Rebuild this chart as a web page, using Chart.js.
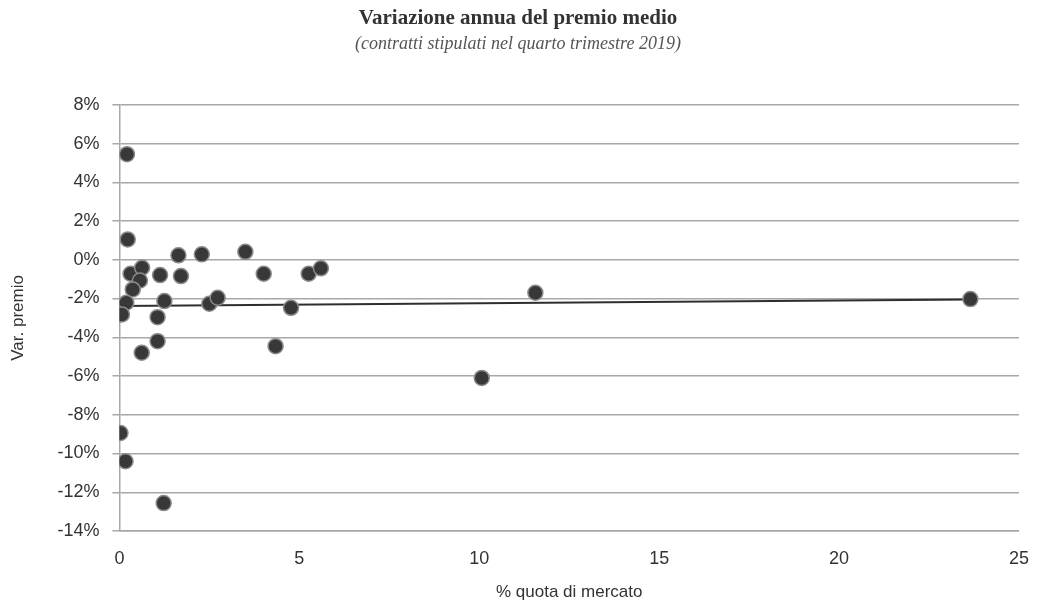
<!DOCTYPE html>
<html>
<head>
<meta charset="utf-8">
<script src="https://cdn.jsdelivr.net/npm/chart.js@4/dist/chart.umd.min.js"></script>
<style>
  html, body { margin: 0; padding: 0; background: #fff; }
  #wrap { width: 1038px; height: 606px; }
</style>
</head>
<body>
<div id="wrap"><canvas id="premioChart" width="1038" height="606"></canvas></div>
<script>
// quota di mercato (%) e variazione annua del premio medio (%)
const quota = [0.21, 0.23, 0.31, 0.63, 0.57, 0.37, 0.19, 0.07, 1.13, 1.64,
               1.71, 1.25, 1.06, 2.29, 2.50, 2.73, 3.50, 4.01, 4.77, 5.26,
               5.60, 1.06, 0.62, 4.34, 0.03, 0.17, 1.23, 11.56, 10.07, 23.65];
const premio = [5.45, 1.05, -0.72, -0.41, -1.07, -1.53, -2.22, -2.82, -0.79, 0.23,
                -0.84, -2.13, -2.96, 0.28, -2.27, -1.96, 0.41, -0.72, -2.48, -0.72,
                -0.44, -4.20, -4.80, -4.46, -8.94, -10.40, -12.56, -1.70, -6.10, -2.03];

// retta di tendenza (estremi)
const trendX = [0, 23.65];
const trendY = [-2.38, -2.05];

const yTicks = [8, 6, 4, 2, 0, -2, -4, -6, -8, -10, -12, -14];
const xTicks = [0, 5, 10, 15, 20, 25];

const points = quota.map((q, i) => ({ x: q, y: premio[i] }));
const trend = trendX.map((x, i) => ({ x: x, y: trendY[i] }));

const ctx = document.getElementById('premioChart').getContext('2d');
new Chart(ctx, {
    type: 'scatter',
    data: {
        datasets: [{
            label: 'Var. premio',
            data: points,
            backgroundColor: '#383838',
            borderColor: '#8a8a8a',
            borderWidth: 1.5,
            pointRadius: 7.5,
            order: 0
        }, {
            type: 'line',
            label: 'Tendenza',
            data: trend,
            borderColor: '#2e2e2e',
            borderWidth: 2,
            pointRadius: 0,
            fill: false,
            order: 1
        }]
    },
    options: {
        responsive: false,
        animation: false,
        layout: { padding: { left: 8, right: 10, top: 0, bottom: 3 } },
        plugins: {
            legend: { display: false },
            tooltip: { enabled: false },
            title: {
                display: true,
                text: 'Variazione annua del premio medio',
                color: '#333',
                font: { family: 'Liberation Serif', size: 21, weight: 'bold' },
                padding: { top: 6, bottom: 2 }
            },
            subtitle: {
                display: true,
                text: '(contratti stipulati nel quarto trimestre 2019)',
                color: '#555',
                font: { family: 'Liberation Serif', size: 18, style: 'italic' },
                padding: { top: 0, bottom: 50 }
            }
        },
        scales: {
            x: {
                type: 'linear',
                min: 0,
                max: 25,
                afterBuildTicks: axis => { axis.ticks = xTicks.map(v => ({ value: v })); },
                grid: { display: false },
                border: { display: true, color: '#a8a8a8', width: 1.5 },
                ticks: {
                    color: '#333',
                    font: { family: 'Liberation Sans', size: 18 },
                    padding: 9
                },
                title: {
                    display: true,
                    text: '% quota di mercato',
                    color: '#333',
                    font: { family: 'Liberation Sans', size: 17 },
                    padding: { top: 4, bottom: 0 }
                }
            },
            y: {
                type: 'linear',
                min: -14,
                max: 8,
                afterBuildTicks: axis => { axis.ticks = yTicks.map(v => ({ value: v })); },
                grid: {
                    color: '#a8a8a8',
                    lineWidth: 1.5,
                    tickLength: 7
                },
                border: { display: true, color: '#a8a8a8', width: 1.5 },
                ticks: {
                    color: '#333',
                    font: { family: 'Liberation Sans', size: 18 },
                    padding: 13,
                    callback: v => v + '%'
                },
                title: {
                    display: true,
                    text: 'Var. premio',
                    color: '#333',
                    font: { family: 'Liberation Sans', size: 17 },
                    padding: { top: 0, bottom: 16 }
                }
            }
        }
    }
});
</script>
</body>
</html>
